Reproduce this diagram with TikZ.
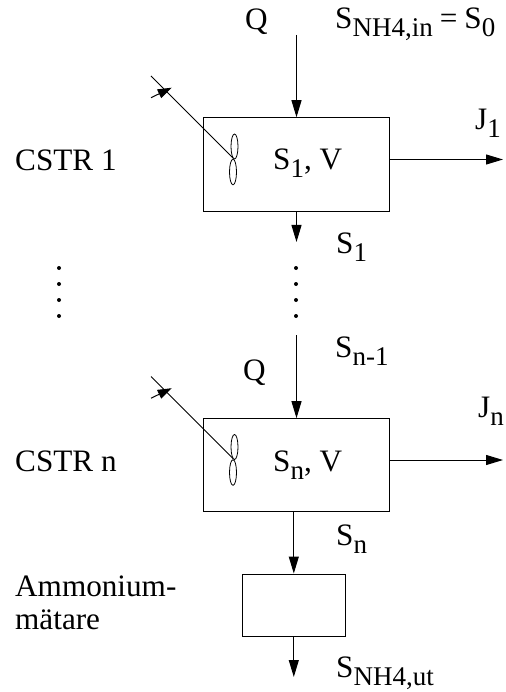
\documentclass[tikz,border=0pt]{standalone}
\usepackage{fontspec}
\setmainfont{Liberation Serif}
\usetikzlibrary{arrows.meta}
\newcommand{\sbs}[1]{\raisebox{-8pt}{\fontsize{27}{27}\selectfont #1}}
\tikzset{
  x=1pt,y=-1pt,
  lbl/.style={inner sep=0pt,anchor=base west,font=\fontsize{31.2}{34}\selectfont},
  boxx/.style={draw,line width=1pt,inner sep=0pt},
  flow/.style={draw,line width=1pt,-{Triangle[length=17pt,width=10pt]}},
  thin line/.style={draw,line width=1pt},
  blade/.style={draw,line width=0.8pt},
  dotn/.style={fill,circle,inner sep=0pt,minimum size=4pt}
}
\begin{document}
\begin{tikzpicture}
\useasboundingbox (0,0) rectangle (505,692);
\node[boxx,minimum width=186pt,minimum height=93.5pt] (b1) at (296,164.5) {};
\node[boxx,minimum width=186pt,minimum height=93pt] (b2) at (296,465.2) {};
\node[boxx,minimum width=103.5pt,minimum height=62pt] (b3) at (294,605) {};
\coordinate (t1) at (296.5,35);
\coordinate (s1) at (296.5,242);
\coordinate (t2) at (296.5,335);
\coordinate (t3) at (293.8,400);
\coordinate (e3) at (293.8,677);
\coordinate (j1) at (503,159.5);
\coordinate (j2) at (503,460);
\draw[flow] (t1) -- (t1 |- b1.north);
\draw[flow] (t1 |- b1.south) -- (s1);
\draw[flow] (t2) -- (t2 |- b2.north);
\draw[flow] (t3 |- b2.south) -- (t3 |- b3.north);
\draw[flow] (t3 |- b3.south) -- (e3);
\draw[flow] (b1.east |- j1) -- (j1);
\draw[flow] (b2.east |- j2) -- (j2);
\foreach \yo/\n in {0/a,300.5/b}{
  \coordinate (st\n) at (151,76+\yo);
  \coordinate (en\n) at (233,158+\yo);
  \coordinate (ta\n) at (151,97.7+\yo);
  \coordinate (ti\n) at (171.7,87.7+\yo);
  \draw[thin line] (st\n) -- (en\n);
  \draw[flow,-{Triangle[length=14pt,width=9.5pt]}] (ta\n) -- (ti\n);
  \draw[blade] (234.5,146.5+\yo) ellipse (3.5 and 12.5);
  \draw[blade] (233,172+\yo) ellipse (3.5 and 12.8);
}
\foreach \xx/\c in {59/l,296/r}{
  \foreach \yy in {268,284,300,316}{
    \node[dotn] (d\c\yy) at (\xx,\yy) {};
  }
}
\node[lbl] (q1) at (245,29.5) {Q};
\node[lbl] (s0) at (335,29) {S\sbs{NH4,in}\kern7pt=\kern7pt S\sbs{0}};
\node[lbl] (j1t) at (475,130) {J\sbs{1}};
\node[lbl] (c1) at (15,171) {CSTR 1};
\node[lbl] (v1) at (273,170) {S\sbs{1}, V};
\node[lbl] (s1t) at (336,254) {S\sbs{1}};
\node[lbl] (sn1) at (335,357) {S\sbs{n-1}};
\node[lbl] (q2) at (243,380) {Q};
\node[lbl] (jnt) at (478,417) {J\sbs{n}};
\node[lbl] (c2) at (15,471) {CSTR n};
\node[lbl] (v2) at (273,471) {S\sbs{n}, V};
\node[lbl] (snt) at (336,545) {S\sbs{n}};
\node[lbl] (am1) at (15,596) {Ammonium-};
\node[lbl] (am2) at (15,629) {mätare};
\node[lbl] (su) at (336,677) {S\sbs{NH4,ut}};
\end{tikzpicture}
\end{document}
